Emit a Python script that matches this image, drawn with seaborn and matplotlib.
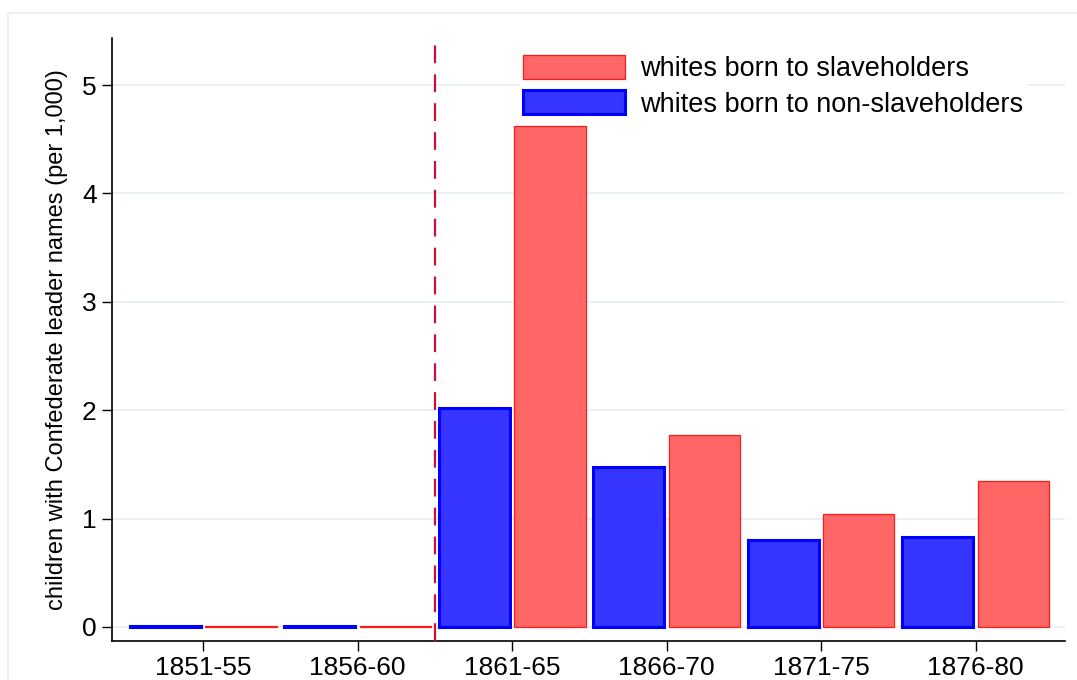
import pandas as pd
import seaborn as sns
import matplotlib.pyplot as plt
from matplotlib.patches import Patch
from matplotlib.lines import Line2D

periods = ['1851-55', '1856-60', '1861-65', '1866-70', '1871-75', '1876-80']
non_slave = [0.012, 0.012, 2.02, 1.48, 0.80, 0.83]
slave = [0.004, 0.004, 4.62, 1.77, 1.04, 1.35]
groups = ['whites born to non-slaveholders', 'whites born to slaveholders']

df = pd.DataFrame({
    'period': periods * 2,
    'value': non_slave + slave,
    'group': [groups[0]] * len(periods) + [groups[1]] * len(periods),
})

sns.set_theme(style='white')
plt.rcParams['font.family'] = ['Liberation Sans', 'DejaVu Sans']
plt.rcParams['text.color'] = 'black'
plt.rcParams['axes.labelcolor'] = 'black'
plt.rcParams['xtick.color'] = 'black'
plt.rcParams['ytick.color'] = 'black'

fill = {groups[0]: '#3535ff', groups[1]: '#ff6666'}
edge = {groups[0]: '#0000ff', groups[1]: '#ff1a1a'}
lw = {groups[0]: 2.2, groups[1]: 0.9}

fig = plt.figure(figsize=(10.77, 6.8), dpi=100)
ax = fig.add_axes([0.104, 0.0574, 0.885, 0.8866])

sns.barplot(data=df, x='period', y='value', hue='group', hue_order=groups,
            palette=fill, saturation=1, width=0.98, gap=0.06, legend=False,
            ax=ax, zorder=3)
for cont, g in zip(ax.containers, groups):
    for bar in cont:
        bar.set_edgecolor(edge[g])
        bar.set_linewidth(lw[g])

ax.axvline(1.5, color='#c8103c', linestyle=(0, (8, 5)), linewidth=1.6, zorder=4)

ax.set_xlim(-0.59, 5.58)
ax.set_ylim(-0.13, 5.434)
ax.set_yticks(range(6))
ax.yaxis.grid(True, color='#e6eff1', linewidth=1.2, zorder=0)
ax.set_axisbelow(True)
ax.set_xlabel('')
ax.set_ylabel('children with Confederate leader names (per 1,000)', fontsize=17, labelpad=10)
ax.tick_params(axis='both', labelsize=19, length=7, width=1, colors='black',
               direction='out', bottom=True, left=True, pad=4)
for s in ['top', 'right']:
    ax.spines[s].set_visible(False)
for s in ['left', 'bottom']:
    ax.spines[s].set_color('black')
    ax.spines[s].set_linewidth(1.2)

handles = [Patch(facecolor=fill[groups[1]], edgecolor=edge[groups[1]], linewidth=lw[groups[1]]),
           Patch(facecolor=fill[groups[0]], edgecolor=edge[groups[0]], linewidth=lw[groups[0]])]
leg = ax.legend(handles, [groups[1], groups[0]], loc='upper left',
                bbox_to_anchor=(0.428, 0.978), fontsize=19.5, handlelength=3.75,
                handleheight=1.0, handletextpad=0.55, labelspacing=0.3,
                borderaxespad=0, borderpad=0.12, frameon=True, fancybox=False)
leg.get_frame().set_facecolor('white')
leg.get_frame().set_edgecolor('white')
leg.get_frame().set_alpha(1)
leg.set_zorder(5)

# outer frame of the graph region
fig.add_artist(Line2D([8 / 1077, 8 / 1077], [0, 1 - 13 / 680], transform=fig.transFigure,
                      color='#e8eef0', linewidth=1.2))
fig.add_artist(Line2D([8 / 1077, 1], [1 - 13 / 680, 1 - 13 / 680], transform=fig.transFigure,
                      color='#e8eef0', linewidth=1.2))

fig.savefig('out.png', dpi=100)
